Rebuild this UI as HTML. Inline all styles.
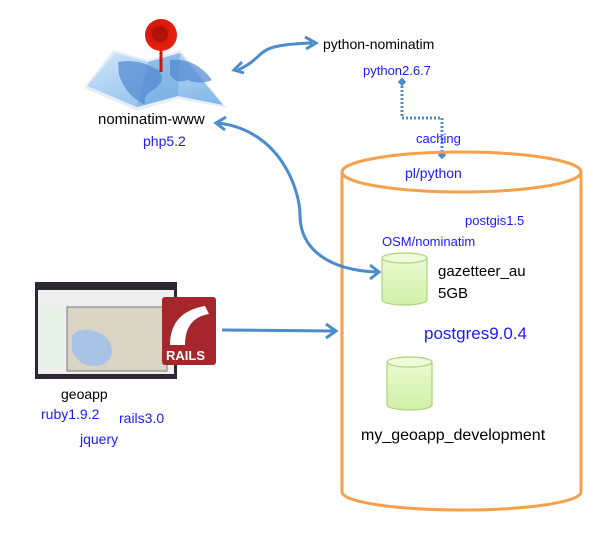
<!DOCTYPE html>
<html><head><style>
body{margin:0;background:#fff;width:604px;height:534px;overflow:hidden;font-family:"Liberation Sans",sans-serif}
</style></head><body>
<svg width="604" height="534" xmlns="http://www.w3.org/2000/svg" font-family="Liberation Sans, sans-serif">
<defs>
<linearGradient id="map" x1="0" y1="0" x2="1" y2="1"><stop offset="0" stop-color="#cfe6fb"/><stop offset="1" stop-color="#7fb4e8"/></linearGradient>
<linearGradient id="gr" x1="0" y1="0" x2="0" y2="1"><stop offset="0" stop-color="#eaf9d0"/><stop offset="1" stop-color="#d2f0a8"/></linearGradient>
<radialGradient id="pin" cx="0.4" cy="0.4" r="0.6"><stop offset="0" stop-color="#c8160c"/><stop offset="1" stop-color="#e8200f"/></radialGradient>
</defs>
<!-- map -->
<polygon points="84,88 113,50 148,60 180,50 227,108 178,99 137,111" fill="#e6eef6"/>
<polygon points="87,86 115,53 148,62 180,53 223,105 178,96 137,107" fill="url(#map)"/>
<polygon points="148,62 180,53 178,96 137,107" fill="#6aa4e0" opacity="0.5"/>
<path d="M118,62 q20,-4 40,8 q10,10 -5,20 q-10,5 -8,15 l-8,-5 q-12,-8 -18,-25z" fill="#4f87cf" opacity="0.7"/>
<path d="M170,60 q25,-3 42,20 q-10,5 -25,0 q-10,5 -17,-5z" fill="#4f87cf" opacity="0.7"/>
<line x1="161" y1="40" x2="161" y2="72" stroke="#c41a0e" stroke-width="3"/>
<circle cx="161" cy="35" r="16" fill="url(#pin)"/>
<circle cx="160" cy="34" r="8" fill="#b01208"/>
<text x="98" y="124" font-size="15">nominatim-www</text>
<text x="143" y="146" font-size="14" fill="#1a1aff">php5.2</text>

<!-- python-nominatim -->
<text x="323" y="49" font-size="14">python-nominatim</text>
<text x="363" y="75" font-size="13" fill="#1a1aff">python2.6.7</text>
<path d="M238,70 C270,55 250,45 312,43" fill="none" stroke="#4a8ccc" stroke-width="3"/>
<path d="M242,62 L234,70 L244,73" fill="none" stroke="#4a8ccc" stroke-width="3"/>
<path d="M305,37 L316,43 L306,49" fill="none" stroke="#4a8ccc" stroke-width="3"/>
<!-- dotted caching -->
<path d="M402,82 L402,118 L442,118 L442,155" fill="none" stroke="#4a8ccc" stroke-width="3" stroke-dasharray="2,2"/>
<rect x="399" y="79" width="6" height="6" fill="#4a8ccc" transform="rotate(45 402 82)"/>
<rect x="439" y="152" width="6" height="6" fill="#4a8ccc" transform="rotate(45 442 155)"/>
<text x="416" y="143" font-size="13" fill="#1a1aff">caching</text>

<!-- big cylinder -->
<path d="M342,172 L342,492 A119.5,18 0 0 0 581,492 L581,172" fill="none" stroke="#f7a04b" stroke-width="3"/>
<ellipse cx="461.5" cy="172" rx="119.5" ry="20" fill="none" stroke="#f7a04b" stroke-width="3"/>
<text x="405" y="178" font-size="14" fill="#1a1aff">pl/python</text>
<text x="465" y="225" font-size="13" fill="#1a1aff">postgis1.5</text>
<text x="382" y="246" font-size="13" fill="#1a1aff">OSM/nominatim</text>

<!-- gazetteer cyl -->
<path d="M382,258 L382,300 A22.5,5 0 0 0 427,300 L427,258" fill="url(#gr)" stroke="#a9d47a" stroke-width="1.2"/>
<ellipse cx="404.5" cy="258" rx="22.5" ry="5" fill="#eefad8" stroke="#a9d47a" stroke-width="1.2"/>
<text x="438" y="276" font-size="15">gazetteer_au</text>
<text x="438" y="298" font-size="15">5GB</text>
<text x="424" y="339" font-size="17" fill="#1a1aff">postgres9.0.4</text>

<!-- my_geoapp cyl -->
<path d="M387,362 L387,405 A22.5,5 0 0 0 432,405 L432,362" fill="url(#gr)" stroke="#a9d47a" stroke-width="1.2"/>
<ellipse cx="409.5" cy="362" rx="22.5" ry="5" fill="#eefad8" stroke="#a9d47a" stroke-width="1.2"/>
<text x="361" y="440" font-size="16">my_geoapp_development</text>

<!-- curved arrow nominatim-www to gazetteer -->
<path d="M218,123 C280,130 300,190 300,215 C300,250 330,270 376,272" fill="none" stroke="#4a8ccc" stroke-width="3"/>
<path d="M226,117 L216,123 L225,130" fill="none" stroke="#4a8ccc" stroke-width="3"/>
<path d="M370,265 L379,272 L370,279" fill="none" stroke="#4a8ccc" stroke-width="3"/>

<!-- geoapp screenshot -->
<rect x="35" y="282" width="142" height="97" fill="#2e2630"/>
<rect x="38" y="290" width="136" height="12" fill="#f0f0f0"/>
<rect x="38" y="302" width="136" height="72" fill="#eeeeee"/>
<rect x="41" y="308" width="22" height="60" fill="#e6f2e6"/>
<rect x="67" y="307" width="100" height="64" fill="#d9d4c3" stroke="#777" stroke-width="1"/>
<path d="M72,335 q15,-12 35,3 q12,18 -5,27 q-22,5 -30,-15z" fill="#a9c3e6"/>
<!-- rails logo -->
<rect x="162" y="297" width="54" height="68" rx="3" fill="#a5262b"/>
<path d="M170,345 Q170,312 205,306 L209,314 Q185,318 185,345z" fill="#fff"/>
<text x="166" y="360" font-size="13" font-weight="bold" fill="#fff">RAILS</text>
<!-- arrow to cylinder -->
<line x1="222" y1="330" x2="334" y2="331" stroke="#4a8ccc" stroke-width="3"/>
<path d="M326,324 L336,331 L326,338" fill="none" stroke="#4a8ccc" stroke-width="3"/>
<text x="61" y="399" font-size="14">geoapp</text>
<text x="41" y="419" font-size="14" fill="#1a1aff">ruby1.9.2</text>
<text x="119" y="423" font-size="14" fill="#1a1aff">rails3.0</text>
<text x="80" y="444" font-size="14" fill="#1a1aff">jquery</text>
</svg>
</body></html>
